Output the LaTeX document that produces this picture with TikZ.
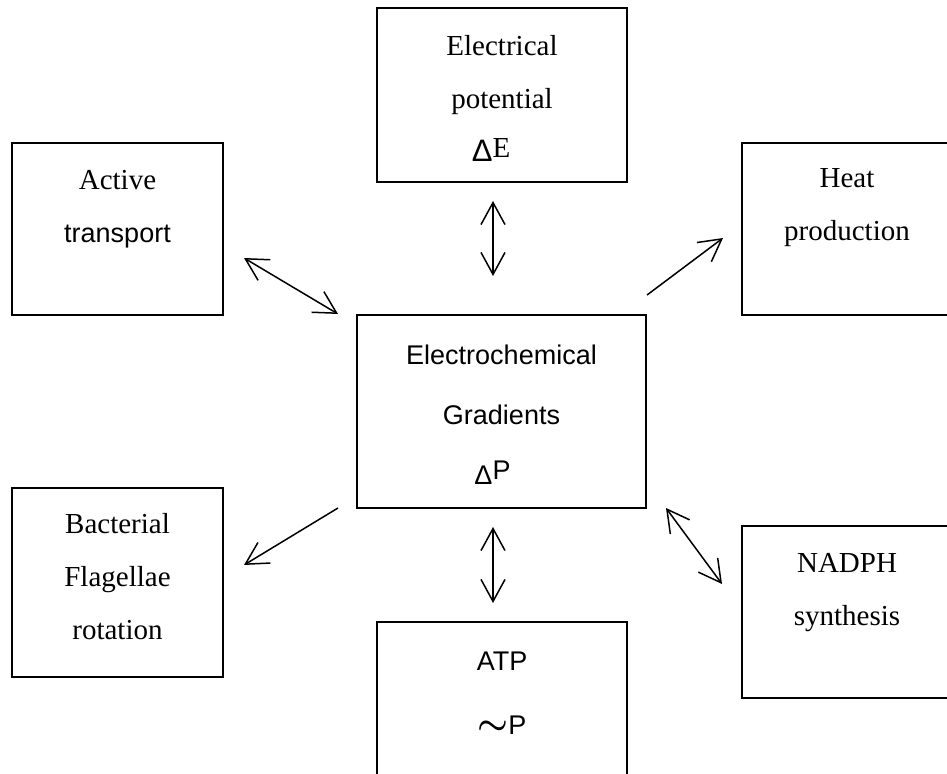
\documentclass[tikz,border=0pt]{standalone}
\usepackage{amsmath}
\usepackage{bm}
\usepackage{fontspec}
\setmainfont{Liberation Serif}
\setsansfont{Liberation Sans}
\usetikzlibrary{arrows.meta,calc}

\begin{document}
\begin{tikzpicture}[x=0.5pt,y=-0.5pt,
  box/.style={draw,line width=1pt,inner sep=0pt},
  rmtext/.style={align=center,inner sep=0pt,font=\fontsize{14.5}{26.5}\selectfont},
  sftext/.style={align=center,inner sep=0pt,font=\sffamily\fontsize{13.5}{30}\selectfont},
  biarrow/.style={{Straight Barb[length=11pt,width=12pt]}-{Straight Barb[length=11pt,width=12pt]},line width=0.75pt},
  onearrow/.style={-{Straight Barb[length=11pt,width=12pt]},line width=0.75pt}]
\clip (0,0) rectangle (947,774);
% ---------- boxes ----------
\node[box,minimum width=125pt,minimum height=87pt] (elec) at (502,95) {};
\node[box,minimum width=105.5pt,minimum height=86pt] (act) at (117.5,229) {};
\node[box,minimum width=105pt,minimum height=86pt] (heat) at (847,229) {};
\node[box,minimum width=144.5pt,minimum height=96.5pt] (grad) at (501.5,411.5) {};
\node[box,minimum width=105.5pt,minimum height=94.5pt] (bact) at (117.5,582.5) {};
\node[box,minimum width=105pt,minimum height=86pt] (nadph) at (847,612) {};
\node[box,minimum width=125pt,minimum height=87pt] (atp) at (502,709) {};
% ---------- labels ----------
\node[rmtext] (elecT) at (502,98) {Electrical\\potential\\{\sffamily\fontsize{15.5}{26.5}\selectfont Δ}\raisebox{2pt}{E}\hspace*{11pt}};
\node[rmtext] (actT) at (117.5,209.5) {Active\\{\sffamily\fontsize{13.5}{26.5}\selectfont transport}};
\node[rmtext] (heatT) at (847,208) {Heat\\production};
\node[sftext] (gradT) at (501.5,415) {Electrochemical\\Gradients\\Δ\raisebox{2.5pt}{P}\hspace*{9pt}};
\node[rmtext] (bactT) at (117.5,576.5) {Bacterial\\Flagellae\\rotation};
\node[rmtext] (nadphT) at (847,592.5) {NADPH\\synthesis};
\node[sftext,font=\sffamily\fontsize{13.5}{32}\selectfont] (atpT) at (502,693) {ATP\\{\fontsize{17}{17}\selectfont$\bm{\sim}$}P};
% ---------- arrows ----------
\draw[biarrow] ($(elec.south)+(-9,18)$) -- ($(grad.north)+(-8.5,-38)$);
\draw[biarrow] ($(act.east)+(20,29)$) -- ($(grad.north west)+(-18,0)$);
\draw[onearrow] ($(grad.north east)+(0,-19)$) -- ($(heat.west)+(-18,9)$);
\draw[onearrow] ($(grad.south west)+(-18,-1)$) -- ($(bact.east)+(20,-17.5)$);
\draw[biarrow] ($(grad.south east)+(19,-1)$) -- ($(nadph.west)+(-19,-28)$);
\draw[biarrow] ($(grad.south)+(-8.5,18)$) -- ($(atp.north)+(-9,-18)$);
\end{tikzpicture}
\end{document}
